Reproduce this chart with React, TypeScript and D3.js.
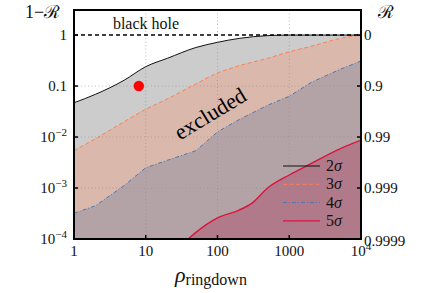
import React, { useEffect, useRef } from "react";
import * as d3 from "d3";

// ρ_ringdown sample points and bounds on 1-R for each confidence level
const RHO = [1, 2, 5, 10, 20, 50, 100, 200, 500, 1000, 2000, 5000, 10000];
const SIGMA2 = [0.047, 0.069, 0.13, 0.24, 0.35, 0.57, 0.72, 0.86, 0.975, 1, 1, 1, 1];
const SIGMA3 = [0.0054, 0.0093, 0.02, 0.035, 0.056, 0.11, 0.18, 0.25, 0.35, 0.47, 0.6, 0.85, 1];
const SIGMA4 = [0.00032, 0.00045, 0.00112, 0.0025, 0.0035, 0.0054, 0.0126, 0.022, 0.042, 0.063, 0.117, 0.21, 0.31];
const RHO5 = [39, 50, 100, 200, 300, 500, 1000, 2000, 5000, 10000];
const SIGMA5 = [0.0001, 0.000135, 0.00026, 0.00037, 0.0005, 0.001, 0.0018, 0.003, 0.0058, 0.0087];

const X_TICKS = [1, 10, 100, 1000, 10000];
const X_LABELS = ["1", "10", "100", "1000", "10^4"];
const Y_TICKS = [1, 0.1, 0.01, 0.001, 0.0001];
const Y_LABELS = ["1", "0.1", "10^-2", "10^-3", "10^-4"];
const R_LABELS = ["0", "0.9", "0.99", "0.999", "0.9999"];

const LEGEND = [
    { label: "2", color: "#111111", dash: null, fill: "#cccccc" },
    { label: "3", color: "#ff7f50", dash: "4,2.5", fill: "#dbb8ac" },
    { label: "4", color: "#4a78b0", dash: "4,2,1,2", fill: "#b3a3a6" },
    { label: "5", color: "#dc143c", dash: null, fill: "#b07a8b" },
];

const POINT = { rho: 8, value: 0.1 };

const FONT = "Liberation Serif, Times New Roman, DejaVu Serif, serif";

export default function App() {
    const svgRef = useRef<SVGSVGElement | null>(null);

    useEffect(() => {
        if (!svgRef.current) return;
        const svg = d3.select(svgRef.current);
        svg.selectAll("*").remove();

        const L = 74, R = 361, T = 10, B = 239;

        const x = d3.scaleLog().domain([1, 10000]).range([L, R]);
        const y = d3.scaleLog().domain([0.0001, 3.1]).range([B, T]);

        const defs = svg.append("defs");
        defs.append("clipPath").attr("id", "plotclip")
            .append("rect").attr("x", L).attr("y", T).attr("width", R - L).attr("height", B - T);

        const plot = svg.append("g").attr("clip-path", "url(#plotclip)");

        const series = [
            { xs: RHO, ys: SIGMA2, curve: d3.curveMonotoneX },
            { xs: RHO, ys: SIGMA3, curve: d3.curveMonotoneX },
            { xs: RHO, ys: SIGMA4, curve: d3.curveLinear },
            { xs: RHO5, ys: SIGMA5, curve: d3.curveMonotoneX },
        ];

        // ── Filled regions ────────────────────────────────────────────
        series.forEach((s, i) => {
            const pts = s.xs.map((v, j) => [v, s.ys[j]] as [number, number]);
            const area = d3.area<[number, number]>()
                .x(d => x(d[0]))
                .y0(B + 2)
                .y1(d => y(d[1]))
                .curve(s.curve);
            plot.append("path")
                .attr("d", area(pts))
                .attr("fill", LEGEND[i].fill);
        });

        // ── Grid ──────────────────────────────────────────────────────
        [10, 100, 1000].forEach(v => {
            plot.append("line")
                .attr("x1", x(v)).attr("x2", x(v)).attr("y1", T).attr("y2", B)
                .attr("stroke", "#8a8a8a").attr("stroke-opacity", 0.7)
                .attr("stroke-width", 0.8).attr("stroke-dasharray", "1,2.5");
        });
        [0.1, 0.01, 0.001].forEach(v => {
            plot.append("line")
                .attr("x1", L).attr("x2", R).attr("y1", y(v)).attr("y2", y(v))
                .attr("stroke", "#8a8a8a").attr("stroke-opacity", 0.7)
                .attr("stroke-width", 0.8).attr("stroke-dasharray", "1,2.5");
        });

        // ── Curves ────────────────────────────────────────────────────
        series.forEach((s, i) => {
            const pts = s.xs.map((v, j) => [v, s.ys[j]] as [number, number]);
            const line = d3.line<[number, number]>()
                .x(d => x(d[0]))
                .y(d => y(d[1]))
                .curve(s.curve);
            plot.append("path")
                .attr("d", line(pts))
                .attr("fill", "none")
                .attr("stroke", LEGEND[i].color)
                .attr("stroke-width", i === 3 ? 1.4 : 1)
                .attr("stroke-dasharray", LEGEND[i].dash);
        });

        // black hole line
        plot.append("line")
            .attr("x1", L).attr("x2", R).attr("y1", y(1)).attr("y2", y(1))
            .attr("stroke", "#000").attr("stroke-width", 1.6)
            .attr("stroke-dasharray", "4,3");

        // red point
        svg.append("circle")
            .attr("cx", x(POINT.rho)).attr("cy", y(POINT.value))
            .attr("r", 5.2).attr("fill", "#ff0000");

        // ── Frame + ticks ─────────────────────────────────────────────
        svg.append("rect")
            .attr("x", L).attr("y", T).attr("width", R - L).attr("height", B - T)
            .attr("fill", "none").attr("stroke", "#000").attr("stroke-width", 2);

        X_TICKS.forEach((v, i) => {
            svg.append("line")
                .attr("x1", x(v)).attr("x2", x(v)).attr("y1", B).attr("y2", B - 4)
                .attr("stroke", "#000").attr("stroke-width", 1.5);
            const t = svg.append("text")
                .attr("x", x(v)).attr("y", 256)
                .attr("text-anchor", "middle")
                .attr("font-family", FONT).attr("font-size", 15).attr("fill", "#111");
            const lab = X_LABELS[i];
            if (lab.includes("^")) {
                const [b, e] = lab.split("^");
                t.append("tspan").text(b);
                t.append("tspan").attr("dy", -6).attr("font-size", 11).text(e);
            } else {
                t.text(lab);
            }
        });

        Y_TICKS.forEach((v, i) => {
            const yy = y(v);
            svg.append("line")
                .attr("x1", L).attr("x2", L + 4).attr("y1", yy).attr("y2", yy)
                .attr("stroke", "#000").attr("stroke-width", 1.5);
            svg.append("line")
                .attr("x1", R).attr("x2", R - 4).attr("y1", yy).attr("y2", yy)
                .attr("stroke", "#000").attr("stroke-width", 1.5);

            const t = svg.append("text")
                .attr("x", 67).attr("y", yy + 5)
                .attr("text-anchor", "end")
                .attr("font-family", FONT).attr("font-size", 15).attr("fill", "#111");
            const lab = Y_LABELS[i];
            if (lab.includes("^")) {
                const [b, e] = lab.split("^");
                t.append("tspan").text(b);
                t.append("tspan").attr("dy", -6).attr("font-size", 11).text(e.replace("-", "\u2212"));
            } else {
                t.text(lab);
            }

            svg.append("text")
                .attr("x", 364).attr("y", yy + 5 + (i === 4 ? 2 : 0))
                .attr("font-family", FONT).attr("font-size", 15).attr("fill", "#111")
                .text(R_LABELS[i]);
        });

        // ── Axis titles ───────────────────────────────────────────────
        svg.append("text")
            .attr("x", 25).attr("y", 18)
            .attr("font-family", FONT).attr("font-size", 18).attr("fill", "#111")
            .text("1\u2212\u211B");
        svg.append("text")
            .attr("x", 378).attr("y", 18)
            .attr("font-family", FONT).attr("font-size", 18).attr("fill", "#111")
            .text("\u211B");

        const xt = svg.append("text")
            .attr("x", 175).attr("y", 282)
            .attr("font-family", FONT).attr("fill", "#111");
        xt.append("tspan").attr("font-size", 22).attr("font-style", "italic").text("\u03C1");
        xt.append("tspan").attr("font-size", 16).attr("dy", 3).text("ringdown");

        svg.append("text")
            .attr("x", 146).attr("y", 29)
            .attr("text-anchor", "middle")
            .attr("font-family", FONT).attr("font-size", 16).attr("fill", "#111")
            .text("black hole");

        svg.append("text")
            .attr("transform", "translate(214,120) rotate(-31)")
            .attr("text-anchor", "middle")
            .attr("font-family", FONT).attr("font-size", 22).attr("fill", "#000")
            .text("excluded");

        // ── Legend ────────────────────────────────────────────────────
        LEGEND.forEach((item, idx) => {
            const ly = 166 + idx * 18.3;
            svg.append("line")
                .attr("x1", 283).attr("x2", 320).attr("y1", ly).attr("y2", ly)
                .attr("stroke", item.color)
                .attr("stroke-width", idx === 3 ? 1.4 : 1)
                .attr("stroke-dasharray", item.dash);
            const t = svg.append("text")
                .attr("x", 326).attr("y", ly + 5)
                .attr("font-family", FONT).attr("font-size", 16).attr("fill", "#111");
            t.append("tspan").text(item.label);
            t.append("tspan").attr("font-style", "italic").text("\u03C3");
        });
    }, []);

    return (
        <svg
            ref={svgRef}
            width={432}
            height={293}
            style={{ position: "absolute", left: 0, top: 0, background: "#fff" }}
        />
    );
}
